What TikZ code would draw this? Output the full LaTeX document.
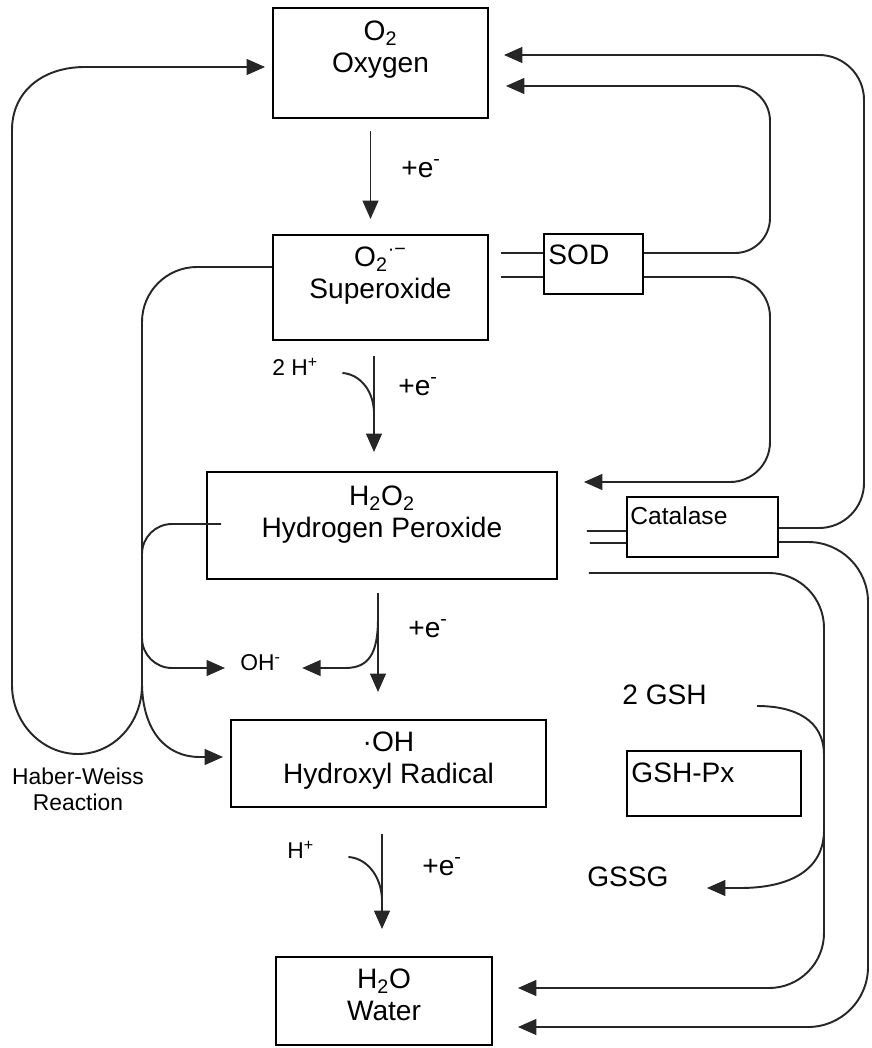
\documentclass[tikz,border=0pt]{standalone}
\usepackage{fontspec}
\setmainfont{Liberation Sans}
\usetikzlibrary{arrows.meta, positioning, calc}

\tikzset{
    box/.style={draw, line width=1.1pt, inner sep=0pt},
    boxtext/.style={inner sep=0pt, align=center, font=\fontsize{16}{18}\selectfont},
    tag/.style={inner sep=0pt, font=\fontsize{16}{18}\selectfont},
    smalltag/.style={inner sep=0pt, font=\fontsize{13}{15}\selectfont},
    conn/.style={line width=1.1pt, draw=black!85},
    arr/.style={conn, -{Triangle[length=10.5pt, width=9pt]}},
}

\begin{document}
\begin{tikzpicture}[x=0.02cm, y=-0.02cm]
        \useasboundingbox (0, 0) rectangle (872, 1048);

        % species
        \node[box, minimum width=4.3cm, minimum height=2.2cm] (oxy) at (380.5, 63) {};
        \node[box, minimum width=4.3cm, minimum height=2.1cm] (sup) at (380.5, 287.5) {};
        \node[box, minimum width=7cm, minimum height=2.14cm] (hp) at (382, 525.5) {};
        \node[box, minimum width=6.3cm, minimum height=1.74cm] (oh) at (388.5, 763.5) {};
        \node[box, minimum width=4.32cm, minimum height=1.76cm] (wat) at (384, 1001) {};

        \node[boxtext, below=0.27cm of oxy.north] (oxyt) {O\textsubscript{2}\\Oxygen};
        \node[boxtext, below=0.25cm of sup.north] (supt) {O\textsubscript{2}\textsuperscript{·−}\\Superoxide};
        \node[boxtext, below=0.29cm of hp.north] (hpt) {H\textsubscript{2}O\textsubscript{2}\\Hydrogen Peroxide};
        \node[boxtext, below=0.25cm of oh.north] (oht) {·OH\\Hydroxyl Radical};
        \node[boxtext, below=0.25cm of wat.north] (watt) {H\textsubscript{2}O\\Water};

        % enzymes
        \node[box, minimum width=1.98cm, minimum height=1.2cm] (sod) at (593.5, 264) {};
        \node[box, minimum width=3.02cm, minimum height=1.2cm] (cat) at (702.5, 527) {};
        \node[box, minimum width=3.48cm, minimum height=1.3cm] (gpx) at (714, 783.5) {};
        \node[tag, below right=0.22cm and 0.1cm of sod.north west] (sodt) {SOD};
        \node[tag, font=\fontsize{14}{16}\selectfont, below right=0.2cm and 0.08cm of cat.north west] (catt) {Catalase};
        \node[tag, below right=0.24cm and 0.1cm of gpx.north west] (gpxt) {GSH-Px};

        % labels
        \node[tag, anchor=base west] (e1) at (401, 177) {+e\textsuperscript{-}};
        \node[tag, anchor=base west] (e2) at (398, 395) {+e\textsuperscript{-}};
        \node[tag, anchor=base west] (e3) at (408, 637) {+e\textsuperscript{-}};
        \node[tag, anchor=base west] (e4) at (422, 875) {+e\textsuperscript{-}};
        \node[smalltag, anchor=base west] (htwo) at (272, 375) {2 H\textsuperscript{+}};
        \node[smalltag, anchor=base west] (hone) at (287, 858) {H\textsuperscript{+}};
        \node[smalltag, anchor=base west] (ohm) at (240, 670) {OH\textsuperscript{-}};
        \node[tag, anchor=base west] (gsh) at (622, 704) {2 GSH};
        \node[tag, anchor=base west] (gssg) at (587, 886) {GSSG};
        \node[smalltag, align=center, anchor=north, font=\fontsize{13}{14.7}\selectfont] (hwr) at (78, 768) {Haber-Weiss\\Reaction};

        % one-electron steps
        \draw[arr] ($(oxy.south)+(-10,12)$) -- ($(sup.north)+(-10,-15)$);
        \draw[arr] ($(sup.south)+(-6.5,15)$) -- ($(hp.north)+(-8,-19)$);
        \draw[arr] ($(hp.south)+(-4,13)$) -- ($(oh.north)+(-10.5,-27)$);
        \draw[arr] ($(oh.south)+(-6.5,26)$) -- ($(wat.north)+(-2,-27)$);
        \draw[conn] ($(htwo.base east)+(24,-2)$) .. controls (358,374) and (373,388) .. (374,412);
        \draw[conn] ($(hone.base east)+(34,-1)$) .. controls (366,858) and (381,875) .. (382,899);

        % hydroxide branches
        \draw[arr] (378,618) .. controls (378,655) and (368,668) .. (345,668) -- ($(ohm.base east)+(21,-2)$);
        \draw[arr, rounded corners=0.6cm] ($(hp.west)+(15,-1.5)$) -- (142,524) -- (142,668) -- ($(ohm.base west)+(-15,-2)$);

        % Haber-Weiss
        \coordinate (hw) at (142, 685);
        \draw[conn, rounded corners=1.1cm] ($(sup.west)+(0,-20.5)$) -- (142,267) -- (hw);
        \draw[arr] (hw) .. controls (143,730) and (165,757) .. (200,757) -- ($(oh.west)+(-7,-6.5)$);
        \draw[arr] (hw) .. controls (142,723) and (114,754) .. (78,754) .. controls (42,754) and (12,723) .. (12,685) -- (12,130) .. controls (12,92) and (42,67) .. (85,67) -- ($(oxy.west)+(-7,4)$);

        % SOD
        \draw[conn] ($(sup.east)+(12,-34.5)$) -- ($(sod.west)+(0,-11)$);
        \draw[conn] ($(sup.east)+(12,-10.5)$) -- ($(sod.west)+(0,13)$);
        \draw[arr, rounded corners=0.7cm] ($(sod.east)+(0,-11)$) -- (770,253) -- (770,86) -- ($(oxy.east)+(17,23)$);
        \draw[arr, rounded corners=0.8cm] ($(sod.east)+(0,13)$) -- (770,277) -- (770,482) -- ($(hp.east)+(26,-43.5)$);

        % catalase
        \draw[conn] ($(hp.east)+(29,5.5)$) -- ($(cat.west)+(0,4)$);
        \draw[conn] ($(hp.east)+(32,17.5)$) -- ($(cat.west)+(0,16)$);
        \draw[arr, rounded corners=0.9cm] ($(cat.east)+(0,1)$) -- (864,528) -- (864,55) -- ($(oxy.east)+(15,-8)$);
        \draw[arr, rounded corners=1.2cm] ($(cat.east)+(0,15)$) -- (868,542) -- (868,1027) -- ($(wat.east)+(25,26)$);

        % glutathione peroxidase
        \draw[arr, rounded corners=1.1cm] ($(hp.east)+(31,47.5)$) -- (824,573) -- (824,988) -- ($(wat.east)+(25,-13)$);
        \draw[arr] ($(gsh.base east)+(50,2)$) .. controls (795,706) and (824,720) .. (824,755) -- (824,830) .. controls (824,870) and (790,888) .. (740,888) -- ($(gssg.base east)+(38,2)$);

\end{tikzpicture}
\end{document}
